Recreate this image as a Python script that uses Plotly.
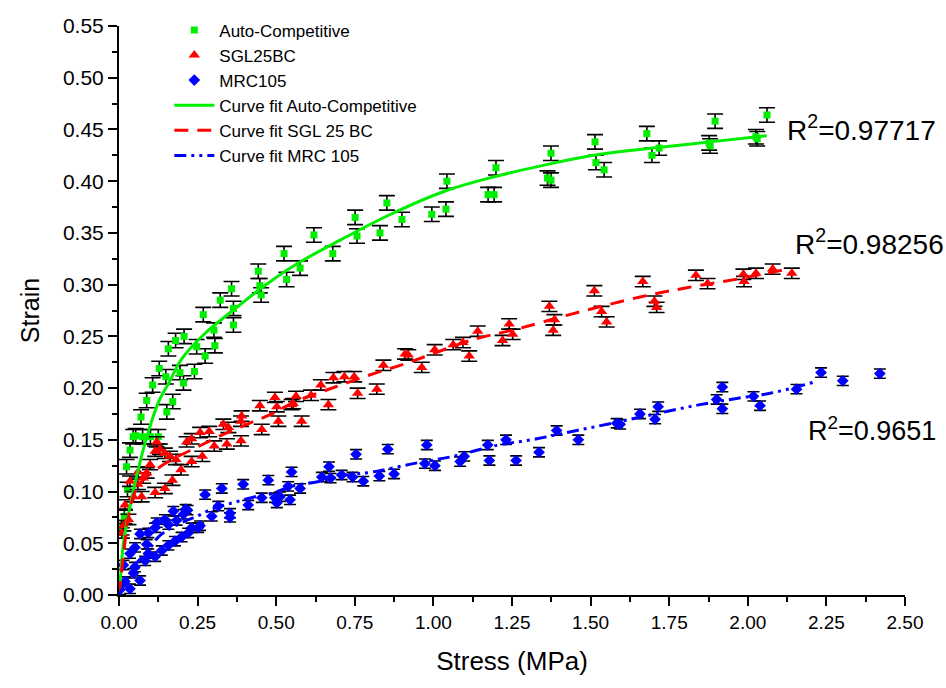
import plotly.graph_objects as go

# ---------------- data ----------------
auto_x = [0.008, 0.017, 0.027, 0.024, 0.035, 0.045, 0.053, 0.075, 0.100, 0.125, 0.070, 0.088, 0.107,
          0.128, 0.149, 0.152, 0.157, 0.171, 0.180, 0.194, 0.205, 0.207, 0.240, 0.247, 0.268, 0.274,
          0.302, 0.305, 0.322, 0.358, 0.364, 0.364, 0.443, 0.448, 0.452, 0.525, 0.533, 0.576, 0.620,
          0.680, 0.751, 0.757, 0.830, 0.852, 0.900, 0.995, 1.040, 1.043, 1.174, 1.193, 1.199, 1.363,
          1.374, 1.374, 1.514, 1.517, 1.543, 1.679, 1.695, 1.718, 1.877, 1.880, 1.896, 2.026, 2.030,
          2.061]
auto_y = [0.065, 0.076, 0.102, 0.124, 0.140, 0.153, 0.154, 0.153, 0.153, 0.153, 0.172, 0.188, 0.203,
          0.219, 0.211, 0.177, 0.238, 0.187, 0.246, 0.215, 0.205, 0.250, 0.216, 0.240, 0.271, 0.231,
          0.256, 0.241, 0.285, 0.296, 0.277, 0.261, 0.313, 0.299, 0.290, 0.330, 0.305, 0.316, 0.348,
          0.330, 0.365, 0.347, 0.350, 0.379, 0.363, 0.368, 0.373, 0.400, 0.387, 0.387, 0.413, 0.403,
          0.401, 0.427, 0.438, 0.418, 0.411, 0.446, 0.425, 0.432, 0.437, 0.434, 0.458, 0.443, 0.441,
          0.464]

sgl_x = [0.009, 0.014, 0.019, 0.030, 0.035, 0.046, 0.060, 0.061, 0.072, 0.077, 0.088, 0.099, 0.115,
         0.115, 0.120, 0.130, 0.146, 0.146, 0.162, 0.170, 0.181, 0.197, 0.215, 0.231, 0.231, 0.258,
         0.265, 0.287, 0.303, 0.332, 0.343, 0.348, 0.388, 0.388, 0.390, 0.448, 0.454, 0.496, 0.502,
         0.507, 0.549, 0.554, 0.563, 0.581, 0.611, 0.642, 0.666, 0.682, 0.717, 0.748, 0.759, 0.820,
         0.841, 0.910, 0.920, 0.963, 1.004, 1.063, 1.094, 1.114, 1.141, 1.220, 1.241, 1.252, 1.369,
         1.381, 1.385, 1.512, 1.535, 1.551, 1.666, 1.703, 1.710, 1.835, 1.872, 1.986, 1.988, 2.026,
         2.079, 2.140]
sgl_y = [0.060, 0.067, 0.087, 0.073, 0.110, 0.095, 0.107, 0.119, 0.095, 0.113, 0.118, 0.126, 0.139,
         0.099, 0.148, 0.141, 0.103, 0.137, 0.134, 0.111, 0.131, 0.121, 0.148, 0.151, 0.129, 0.157,
         0.134, 0.158, 0.144, 0.165, 0.146, 0.162, 0.168, 0.149, 0.173, 0.183, 0.160, 0.191, 0.182,
         0.168, 0.184, 0.185, 0.192, 0.168, 0.193, 0.203, 0.184, 0.210, 0.211, 0.211, 0.195, 0.199,
         0.222, 0.233, 0.232, 0.220, 0.237, 0.242, 0.244, 0.231, 0.255, 0.246, 0.262, 0.252, 0.279,
         0.256, 0.266, 0.294, 0.274, 0.264, 0.303, 0.284, 0.278, 0.309, 0.301, 0.310, 0.303, 0.311,
         0.315, 0.311]

mrc_x = [0.003, 0.014, 0.019, 0.035, 0.035, 0.046, 0.051, 0.051, 0.067, 0.067, 0.083, 0.088, 0.093,
         0.093, 0.115, 0.115, 0.120, 0.136, 0.146, 0.157, 0.157, 0.173, 0.178, 0.183, 0.199, 0.205,
         0.212, 0.218, 0.220, 0.231, 0.252, 0.258, 0.274, 0.295, 0.316, 0.327, 0.353, 0.353, 0.395,
         0.411, 0.454, 0.475, 0.496, 0.502, 0.512, 0.538, 0.544, 0.549, 0.576, 0.645, 0.668, 0.673,
         0.708, 0.743, 0.754, 0.777, 0.828, 0.855, 0.875, 0.979, 0.973, 1.005, 1.085, 1.098, 1.173,
         1.178, 1.231, 1.263, 1.336, 1.392, 1.461, 1.583, 1.594, 1.657, 1.705, 1.715, 1.901, 1.919,
         1.919, 2.018, 2.039, 2.155, 2.233, 2.302, 2.420]
mrc_y = [0.005, 0.029, 0.013, 0.006, 0.040, 0.021, 0.027, 0.046, 0.014, 0.059, 0.033, 0.049, 0.040,
         0.060, 0.037, 0.065, 0.070, 0.043, 0.073, 0.048, 0.068, 0.081, 0.052, 0.072, 0.056, 0.078,
         0.083, 0.082, 0.060, 0.065, 0.065, 0.067, 0.097, 0.076, 0.086, 0.103, 0.079, 0.075, 0.107,
         0.087, 0.094, 0.111, 0.094, 0.089, 0.095, 0.105, 0.092, 0.119, 0.103, 0.114, 0.124, 0.113,
         0.116, 0.114, 0.136, 0.110, 0.115, 0.141, 0.117, 0.145, 0.127, 0.125, 0.129, 0.134, 0.145,
         0.130, 0.150, 0.130, 0.138, 0.159, 0.150, 0.166, 0.165, 0.175, 0.170, 0.182, 0.189, 0.201,
         0.180, 0.192, 0.183, 0.199, 0.215, 0.207, 0.214]

# fitted curves
fit_auto_x = [0.0, 0.003, 0.014, 0.030, 0.051, 0.083, 0.125, 0.162, 0.199, 0.274, 0.358, 0.454, 0.560,
              0.703, 0.871, 1.042, 1.190, 1.360, 1.509, 1.699, 1.880, 2.060]
fit_auto_y = [0.0, 0.010, 0.050, 0.078, 0.108, 0.147, 0.186, 0.207, 0.228, 0.253, 0.274, 0.297, 0.319,
              0.343, 0.369, 0.391, 0.404, 0.416, 0.425, 0.432, 0.438, 0.444]

fit_sgl_x = [0.0, 0.003, 0.017, 0.030, 0.051, 0.080, 0.157, 0.236, 0.316, 0.406, 0.486, 0.554, 0.650,
             0.724, 0.820, 0.894, 0.979, 1.127, 1.265, 1.445, 1.657, 1.806, 1.996, 2.124]
fit_sgl_y = [0.0, 0.008, 0.046, 0.075, 0.100, 0.112, 0.129, 0.141, 0.153, 0.165, 0.175, 0.186, 0.197,
             0.205, 0.215, 0.222, 0.231, 0.247, 0.257, 0.272, 0.288, 0.297, 0.307, 0.315]

fit_mrc_x = [0.0, 0.009, 0.024, 0.051, 0.093, 0.125, 0.162, 0.210, 0.247, 0.295, 0.337, 0.379, 0.433,
             0.486, 0.549, 0.639, 0.724, 0.809, 0.936, 1.063, 1.201, 1.329, 1.456, 1.583, 1.721, 1.848,
             1.965, 2.071, 2.166, 2.219]
fit_mrc_y = [0.0, 0.005, 0.014, 0.029, 0.043, 0.056, 0.064, 0.0715, 0.076, 0.083, 0.087, 0.0906, 0.095,
             0.098, 0.105, 0.110, 0.116, 0.119, 0.127, 0.134, 0.1446, 0.151, 0.159, 0.167, 0.176, 0.184,
             0.190, 0.195, 0.202, 0.2066]

auto_err = 0.007
sgl_err = 0.005
mrc_err = 0.0045

r2_labels = ["R<sup>2</sup>=0.97717", "R<sup>2</sup>=0.98256", "R<sup>2</sup>=0.9651"]
r2_pos_x = [2.118, 2.144, 2.185]
r2_pos_y = [0.451, 0.341, 0.160]
r2_sizes = [28, 28, 27]

GREEN = "#00ee00"
RED = "#ff0000"
BLUE = "#0000ff"
FONT = "Liberation Sans, Arial, sans-serif"

fig = go.Figure()

def pts(x, y, name, color, symbol, size, err, capw):
    fig.add_trace(go.Scatter(
        x=x, y=y, mode="markers", name=name,
        marker=dict(color=color, symbol=symbol, size=size, line=dict(width=0)),
        error_y=dict(type="constant", value=err, color="black", thickness=1.6, width=capw),
    ))

pts(auto_x, auto_y, "Auto-Competitive", GREEN, "square", 7, auto_err, 8)
pts(sgl_x, sgl_y, "SGL25BC", RED, "triangle-up", 10, sgl_err, 8)
pts(mrc_x, mrc_y, "MRC105", BLUE, "diamond", 9, mrc_err, 6)

fig.add_trace(go.Scatter(x=fit_auto_x, y=fit_auto_y, mode="lines", name="Curve fit Auto-Competitive",
                         line=dict(color=GREEN, width=3, shape="spline")))
fig.add_trace(go.Scatter(x=fit_sgl_x, y=fit_sgl_y, mode="lines", name="Curve fit SGL 25 BC",
                         line=dict(color=RED, width=3, dash="14px,9px", shape="spline")))
fig.add_trace(go.Scatter(x=fit_mrc_x, y=fit_mrc_y, mode="lines", name="Curve fit MRC 105",
                         line=dict(color=BLUE, width=3, dash="12px,5px,3px,5px,3px,5px", shape="spline")))

for t, xx, yy, sz in zip(r2_labels, r2_pos_x, r2_pos_y, r2_sizes):
    fig.add_annotation(x=xx, y=yy, text=t, showarrow=False, xanchor="left", yanchor="middle",
                       font=dict(family=FONT, size=sz, color="black"))

fig.update_layout(
    width=946, height=688,
    margin=dict(l=119, r=41, t=18, b=93),
    paper_bgcolor="white", plot_bgcolor="white",
    font=dict(family=FONT, color="black"),
    showlegend=True,
    legend=dict(x=0.064, y=1.024, xanchor="left", yanchor="top", bgcolor="rgba(0,0,0,0)",
                font=dict(family=FONT, size=17, color="black"), tracegroupgap=0, itemwidth=40),
)
fig.update_xaxes(
    range=[0, 2.5], tickvals=[0, 0.25, 0.5, 0.75, 1.0, 1.25, 1.5, 1.75, 2.0, 2.25, 2.5],
    tickformat=".2f", showgrid=False, zeroline=False, showline=True, linecolor="black", linewidth=2,
    ticks="outside", ticklen=9, tickwidth=2, tickcolor="black",
    minor=dict(ticks="outside", ticklen=5, tickwidth=2, tickcolor="black", dtick=0.125, tick0=0),
    tickfont=dict(family=FONT, size=19), title=dict(text="Stress (MPa)", font=dict(family=FONT, size=26), standoff=20),
)
fig.update_yaxes(
    range=[0, 0.55], dtick=0.05, tick0=0, tickformat=".2f", showgrid=False, zeroline=False,
    showline=True, linecolor="black", linewidth=2,
    ticks="outside", ticklen=9, tickwidth=2, tickcolor="black",
    minor=dict(ticks="outside", ticklen=5, tickwidth=2, tickcolor="black", dtick=0.025, tick0=0),
    tickfont=dict(family=FONT, size=21), title=dict(text="Strain", font=dict(family=FONT, size=25), standoff=16),
)

fig.write_html("out.html")
